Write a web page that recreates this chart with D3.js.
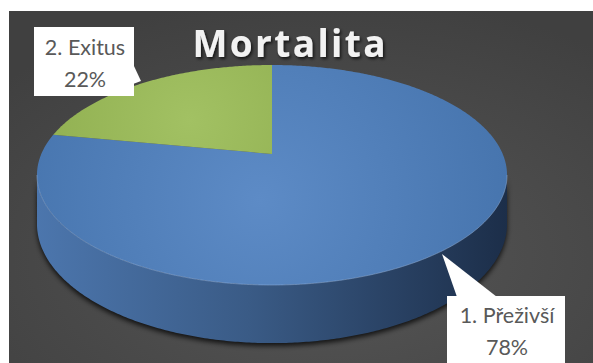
<!DOCTYPE html>
<html><head><meta charset="utf-8">
<script src="https://cdn.jsdelivr.net/npm/d3@7"></script>
<style>html,body{margin:0;padding:0;background:#fff;}svg{display:block;}</style>
</head><body>
<svg id="c" width="593" height="363"></svg>
<script>
const title = "Mortalita";
const categories = ["1. Přeživší", "2. Exitus"];
const values = [78, 22];
const percentLabels = ["78%", "22%"];
const colors = ["#4f81bd", "#9bbb59"];

const svg = d3.select("#c");
const W = 593, H = 363;
const defs = svg.append("defs");

// background gradient
const bg = defs.append("radialGradient").attr("id","bg").attr("cx","55%").attr("cy","70%").attr("r","75%");
bg.append("stop").attr("offset","0%").attr("stop-color","#565656");
bg.append("stop").attr("offset","100%").attr("stop-color","#404040");
svg.append("rect").attr("x",9).attr("y",11).attr("width",W-9).attr("height",H-11).attr("fill","url(#bg)");

// projection of the 3D pie
const cx = 272, cy = 154, a = 0.191, b = 106, c = 230.7, depth = 47;
function proj(theta, down) {
  const X = Math.sin(theta), Z = Math.cos(theta);
  const s = 1 / (1 + a * Z);
  return [cx + c * X * s, cy - b * Z * s + (down ? depth * s : 0)];
}
function arcPts(t0, t1, down) {
  const n = Math.max(2, Math.ceil(Math.abs(t1 - t0) / 0.01));
  return d3.range(n + 1).map(i => proj(t0 + (t1 - t0) * i / n, down));
}
const line = d3.line();

const pie = d3.pie().sort(null).value(d => d)(values);

// gradients
const gTop = defs.append("radialGradient").attr("id","gBlue").attr("gradientUnits","userSpaceOnUse")
  .attr("cx",260).attr("cy",200).attr("r",260);
gTop.append("stop").attr("offset","0%").attr("stop-color","#5d8bc6");
gTop.append("stop").attr("offset","100%").attr("stop-color","#4674ad");
const gGreen = defs.append("radialGradient").attr("id","gGreen").attr("gradientUnits","userSpaceOnUse")
  .attr("cx",190).attr("cy",120).attr("r",170);
gGreen.append("stop").attr("offset","0%").attr("stop-color","#a2c163");
gGreen.append("stop").attr("offset","100%").attr("stop-color","#8fae4f");
const gWall = defs.append("linearGradient").attr("id","gWall").attr("gradientUnits","userSpaceOnUse")
  .attr("x1",36).attr("x2",507).attr("y1",0).attr("y2",0);
gWall.append("stop").attr("offset","0%").attr("stop-color","#4c76ad");
gWall.append("stop").attr("offset","45%").attr("stop-color","#3a5b86");
gWall.append("stop").attr("offset","100%").attr("stop-color","#1c2e49");
const blur = defs.append("filter").attr("id","blur").attr("x","-20%").attr("y","-20%").attr("width","140%").attr("height","140%");
blur.append("feGaussianBlur").attr("stdDeviation",2.5);
const tshadow = defs.append("filter").attr("id","tsh").attr("x","-10%").attr("y","-20%").attr("width","130%").attr("height","150%");
tshadow.append("feDropShadow").attr("dx",1.5).attr("dy",2).attr("stdDeviation",1.5).attr("flood-color","#000").attr("flood-opacity",0.7);

// side wall (front visible part)
const tL = Math.acos(-a), tR = 2 * Math.PI - Math.acos(-a);
const wallPts = arcPts(tL, tR, false).concat(arcPts(tR, tL, true));
const shPts = arcPts(tL, tR, true).map(p => [p[0], p[1] + 3]);
svg.append("path").attr("d", line(arcPts(tL, tR, false).concat(shPts.reverse())) + "Z")
  .attr("fill","#000").attr("opacity",0.75).attr("filter","url(#blur)");
svg.append("path").attr("d", line(wallPts) + "Z").attr("fill","url(#gWall)");

// top faces
const fills = ["url(#gBlue)", "url(#gGreen)"];
svg.selectAll("path.slice").data(pie).join("path").attr("class","slice")
  .attr("d", d => line([[cx, cy]].concat(arcPts(d.startAngle, d.endAngle, false))) + "Z")
  .attr("fill", (d, i) => fills[i]);
svg.append("path").attr("d", line(arcPts(tL, tR, false))).attr("fill","none")
  .attr("stroke","#8fb0dc").attr("stroke-opacity",0.5).attr("stroke-width",1);

// title
const tt = svg.append("text").attr("x",289).attr("y",57).attr("text-anchor","middle")
  .attr("font-family","'Open Sans', Lato, sans-serif").attr("font-weight","bold").attr("font-size",37)
  .attr("fill","#f2f2f2").attr("filter","url(#tsh)").text(title);
const tw = tt.node().getComputedTextLength();
const ls = (193 - tw) / (title.length - 1);
tt.attr("letter-spacing", ls).attr("x", 289 + ls / 2);

// labels (callouts)
const labelBoxes = [
  {box:[447,296,118,80], ptr:[[442,254],[457,297],[497,297]], tx:507, ty:[323,355]},
  {box:[34,27,100,69], ptr:[[133,64],[141,81],[133,84]], tx:85, ty:[55,87]}
];
pie.forEach((d, i) => {
  const L = labelBoxes[i];
  const g = svg.append("g");
  g.append("rect").attr("x",L.box[0]).attr("y",L.box[1]).attr("width",L.box[2]).attr("height",L.box[3]).attr("fill","#fff");
  g.append("path").attr("d", line(L.ptr) + "Z").attr("fill","#fff");
  [categories[i], percentLabels[i]].forEach((t, j) => {
    g.append("text").attr("x",L.tx).attr("y",L.ty[j]).attr("text-anchor","middle")
      .attr("font-family","Lato, 'Open Sans', sans-serif").attr("font-size",21.5).attr("fill","#595959").text(t);
  });
});
</script>
</body></html>
